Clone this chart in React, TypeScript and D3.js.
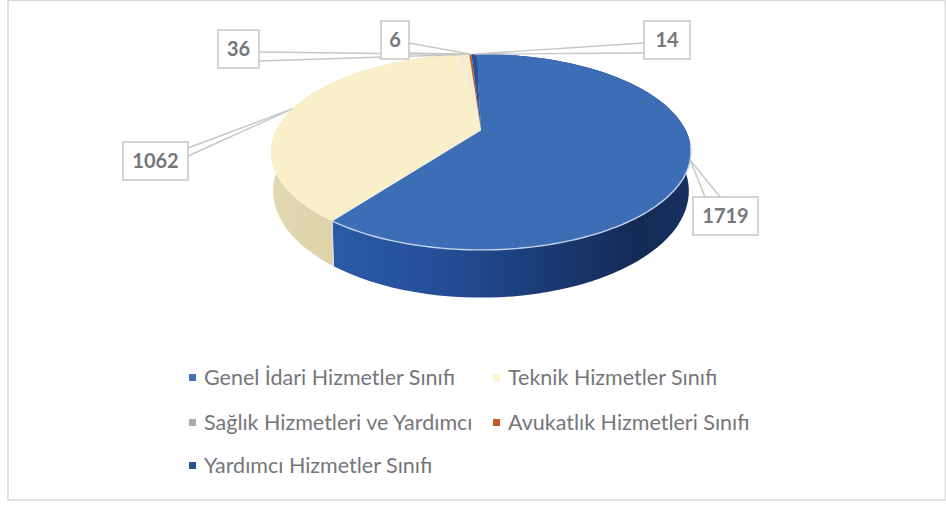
import React from "react";
import * as d3 from "d3";

const categories = ["Genel İdari Hizmetler Sınıfı", "Teknik Hizmetler Sınıfı", "Sağlık Hizmetleri ve Yardımcı", "Avukatlık Hizmetleri Sınıfı", "Yardımcı Hizmetler Sınıfı"];
const values = [1719, 1062, 36, 6, 14];
const sliceColors = ["#3d6db5", "#f9f0c9", "#f6edd0", "#c55a20", "#2a5298"];
const legendColors = ["#4472b8", "#fdf3cf", "#a9abae", "#c55a22", "#2a5496"];

// label callouts: box x, y, w, h and which box edge holds the wedge base
const boxes = [
  { x: 693, y: 197, w: 65, h: 38, base: [[705, 197], [720, 197]] },
  { x: 123, y: 142, w: 65, h: 38, base: [[188, 148], [188, 156]] },
  { x: 218, y: 30, w: 41, h: 38, base: [[259, 52], [259, 61]] },
  { x: 381, y: 21, w: 28, h: 38, base: [[409, 43], [409, 53]] },
  { x: 644, y: 21, w: 46, h: 38, base: [[644, 43], [644, 53]] },
];
const legendPos = [[189, 378], [493, 378], [189, 423], [493, 423], [189, 466]];

const cx = 481, cy = 130, a = 204.6, b = 93, k = 0.2245, D = 37, wallScale = 0.99;
const rotation = (-1.5 * Math.PI) / 180;
const proj = (t: number): [number, number] => {
  const w = 1 + k * Math.cos(t);
  return [cx + (a * Math.sin(t)) / w, cy - (b * Math.cos(t)) / w];
};
const projBottom = (t: number): [number, number] => {
  const w = 1 + k * Math.cos(t);
  return [cx + (wallScale * a * Math.sin(t)) / w, cy - (b * Math.cos(t)) / w + D / w];
};
const samples = (s: number, e: number) => d3.range(0, 81).map((i) => s + ((e - s) * i) / 80);
const line = d3.line();

export default function App() {
  const arcs = d3.pie<number>().sort(null).startAngle(rotation).endAngle(2 * Math.PI + rotation)(values);
  const first = arcs[0];
  return (
    <svg width={946} height={505} style={{ position: "absolute", left: 0, top: 0, background: "#fff" }}>
      <defs>
        <linearGradient id="wallBlue" gradientUnits="userSpaceOnUse" x1={333} x2={691} y1={0} y2={0}>
          <stop offset="0" stopColor="#2c5aa6" />
          <stop offset="0.3" stopColor="#234f97" />
          <stop offset="0.6" stopColor="#1a3a74" />
          <stop offset="0.85" stopColor="#152a56" />
          <stop offset="1" stopColor="#16305f" />
        </linearGradient>
        <linearGradient id="wallCream" gradientUnits="userSpaceOnUse" x1={272} x2={335} y1={0} y2={0}>
          <stop offset="0" stopColor="#e2d8b2" />
          <stop offset="1" stopColor="#ddd2a9" />
        </linearGradient>
      </defs>
      <path d="M8 0.5 H945.5 V500 H8 Z" fill="none" stroke="#d9d9d9" strokeWidth={1.6} />

      {arcs.slice(0, 2).map((d, i) => {
        const pts = [...samples(d.startAngle, d.endAngle).map(proj), ...samples(d.startAngle, d.endAngle).reverse().map(projBottom)];
        return <path key={i} d={line(pts) + "Z"} fill={i === 0 ? "url(#wallBlue)" : "url(#wallCream)"} />;
      })}
      {arcs.map((d, i) => (
        <path key={i} d={line([[cx, cy], ...samples(d.startAngle, d.endAngle).map(proj)]) + "Z"} fill={sliceColors[i]} />
      ))}
      <path d={line(samples(Math.PI * 0.55, first.endAngle).map(proj)) ?? ""} fill="none" stroke="#c3d4ec" strokeWidth={1.4} />
      <path d={line([proj(first.endAngle), projBottom(first.endAngle)]) ?? ""} fill="none" stroke="#dfe8f2" strokeWidth={1} />
      <path d={line([proj(first.endAngle), [cx, cy]]) ?? ""} fill="none" stroke="#e6ecf3" strokeWidth={0.8} />

      {arcs.map((d, i) => {
        const tip = proj((d.startAngle + d.endAngle) / 2);
        const box = boxes[i];
        return (
          <g key={i}>
            <path d={line([box.base[0] as [number, number], tip, box.base[1] as [number, number]]) ?? ""} fill="none" stroke="#c6c6c6" strokeWidth={1.4} />
            <rect x={box.x} y={box.y} width={box.w} height={box.h} fill="#fff" stroke="#c6c6c6" strokeWidth={1.5} />
            <text x={box.x + box.w / 2} y={box.y + box.h / 2 + 7} textAnchor="middle" fontFamily="Lato, 'Open Sans', sans-serif" fontWeight={700} fontSize={20} fill="#76777b">{values[i]}</text>
          </g>
        );
      })}

      {categories.map((c, i) => (
        <g key={c}>
          <rect x={legendPos[i][0]} y={legendPos[i][1] - 4} width={7} height={7} fill={legendColors[i]} />
          <text x={legendPos[i][0] + 15} y={legendPos[i][1] + 7} fontFamily="Lato, 'Open Sans', sans-serif" fontSize={21.5} fill="#75767a">{c}</text>
        </g>
      ))}
    </svg>
  );
}
